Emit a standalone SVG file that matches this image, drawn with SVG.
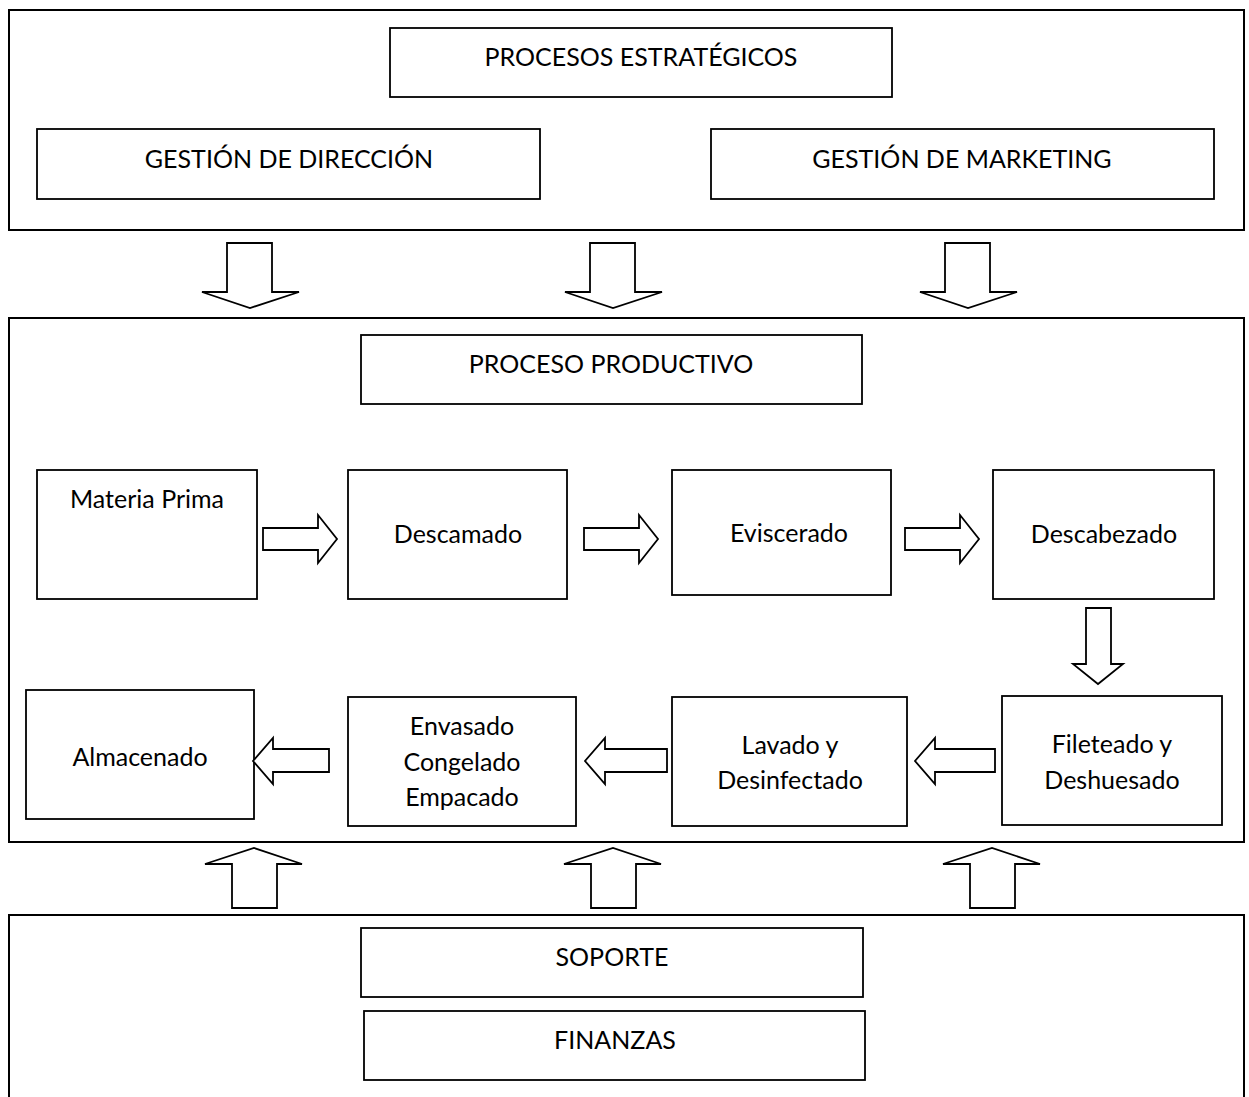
<svg xmlns="http://www.w3.org/2000/svg" width="1249" height="1097" viewBox="0 0 1249 1097">
  <style>
    .frame { fill: none; stroke: #000; stroke-width: 2; }
    .box { fill: #fff; stroke: #000; stroke-width: 1.8; }
    .arrow { fill: #fff; stroke: #000; stroke-width: 1.8; stroke-linejoin: miter; }
    text { font-family: Lato, "Open Sans", "Liberation Sans", sans-serif; font-size: 25px; fill: #000; text-anchor: middle; }
  </style>
  <rect width="1249" height="1097" fill="#fff"/>

  <!-- Strategic processes frame -->
  <g id="frame-estrategicos">
    <rect class="frame" x="9" y="10" width="1235" height="220"/>
  </g>
  <g id="procesos-estrategicos">
    <rect class="box" x="390" y="28" width="502" height="69"/>
    <text x="641" y="66">PROCESOS ESTRATÉGICOS</text>
  </g>
  <g id="gestion-direccion">
    <rect class="box" x="37" y="129" width="503" height="70"/>
    <text x="289" y="168">GESTIÓN DE DIRECCIÓN</text>
  </g>
  <g id="gestion-marketing">
    <rect class="box" x="711" y="129" width="503" height="70"/>
    <text x="962" y="168">GESTIÓN DE MARKETING</text>
  </g>

  <!-- Production process frame -->
  <g id="frame-productivo">
    <rect class="frame" x="9" y="318" width="1235" height="524"/>
  </g>
  <g id="proceso-productivo">
    <rect class="box" x="361" y="335" width="501" height="69"/>
    <text x="611" y="373">PROCESO PRODUCTIVO</text>
  </g>
  <g id="materia-prima">
    <rect class="box" x="37" y="470" width="220" height="129"/>
    <text x="147" y="508">Materia Prima</text>
  </g>
  <g id="descamado">
    <rect class="box" x="348" y="470" width="219" height="129"/>
    <text x="458" y="543">Descamado</text>
  </g>
  <g id="eviscerado">
    <rect class="box" x="672" y="470" width="219" height="125"/>
    <text x="789" y="542">Eviscerado</text>
  </g>
  <g id="descabezado">
    <rect class="box" x="993" y="470" width="221" height="129"/>
    <text x="1104" y="543">Descabezado</text>
  </g>
  <g id="almacenado">
    <rect class="box" x="26" y="690" width="228" height="129"/>
    <text x="140" y="766">Almacenado</text>
  </g>
  <g id="envasado">
    <rect class="box" x="348" y="697" width="228" height="129"/>
    <text x="462" y="735">Envasado</text>
    <text x="462" y="771">Congelado</text>
    <text x="462" y="806">Empacado</text>
  </g>
  <g id="lavado">
    <rect class="box" x="672" y="697" width="235" height="129"/>
    <text x="790" y="754">Lavado y</text>
    <text x="790" y="789">Desinfectado</text>
  </g>
  <g id="fileteado">
    <rect class="box" x="1002" y="696" width="220" height="129"/>
    <text x="1112" y="753">Fileteado y</text>
    <text x="1112" y="789">Deshuesado</text>
  </g>

  <!-- Support frame (open at the bottom) -->
  <g id="frame-soporte">
    <path class="frame" d="M9,1097 V915 H1244 V1097"/>
  </g>
  <g id="soporte">
    <rect class="box" x="361" y="928" width="502" height="69"/>
    <text x="612" y="966">SOPORTE</text>
  </g>
  <g id="finanzas">
    <rect class="box" x="364" y="1011" width="501" height="69"/>
    <text x="615" y="1049">FINANZAS</text>
  </g>

  <!-- Block arrows between stages -->
  <g id="connectors">
    <!-- strategic to production -->
    <polygon class="arrow" points="227,243 272,243 272,292 299,292 250,308 202,292 227,292"/>
    <polygon class="arrow" points="590,243 635,243 635,292 662,292 613,308 565,292 590,292"/>
    <polygon class="arrow" points="945,243 990,243 990,292 1017,292 968,308 920,292 945,292"/>

    <!-- first row, left to right -->
    <polygon class="arrow" points="263,528 318,528 318,515 337,539 318,563 318,550 263,550"/>
    <polygon class="arrow" points="584,528 639,528 639,515 658,539 639,563 639,550 584,550"/>
    <polygon class="arrow" points="905,528 960,528 960,515 979,539 960,563 960,550 905,550"/>

    <!-- turn down to second row -->
    <polygon class="arrow" points="1086,608 1111,608 1111,664 1123,664 1098,684 1073,664 1086,664"/>

    <!-- second row, right to left -->
    <polygon class="arrow" points="329,749 273,749 273,738 253,761 273,784 273,772 329,772"/>
    <polygon class="arrow" points="667,749 605,749 605,738 585,761 605,784 605,772 667,772"/>
    <polygon class="arrow" points="995,749 935,749 935,738 915,761 935,784 935,772 995,772"/>

    <!-- support to production -->
    <polygon class="arrow" points="232,908 277,908 277,864 302,864 254,848 205,864 232,864"/>
    <polygon class="arrow" points="591,908 636,908 636,864 661,864 613,848 564,864 591,864"/>
    <polygon class="arrow" points="970,908 1015,908 1015,864 1040,864 992,848 943,864 970,864"/>
  </g>
</svg>
